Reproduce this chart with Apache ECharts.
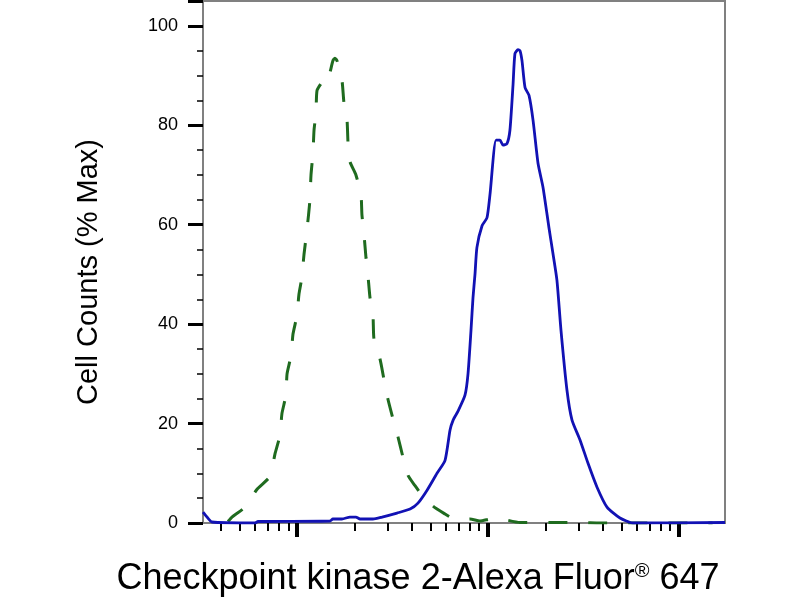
<!DOCTYPE html>
<html>
<head>
<meta charset="utf-8">
<script src="https://cdn.jsdelivr.net/npm/echarts@6/dist/echarts.min.js"></script>
<style>
html,body{margin:0;padding:0;background:#fff;}
#chart{width:800px;height:600px;}
</style>
</head>
<body>
<div id="chart"></div>
<script>
// Fluorescence intensity (log scale) vs cell counts (% max)
const xMin = 3.22;
const xMax = 1742;
const xMajorTicks = [10, 100, 1000];
const xMinorTicks = [4, 5, 6, 7, 8, 9, 20, 30, 40, 50, 60, 70, 80, 90, 200, 300, 400, 500, 600, 700, 800, 900];
const yMajorTicks = [0, 20, 40, 60, 80, 100];
const yMax = 105;

const xAxisTitle = 'Checkpoint kinase 2-Alexa Fluor';
const xAxisTitleMark = '®';
const xAxisTitleEnd = ' 647';
const yAxisTitle = 'Cell Counts (% Max)';

// isotype / unstained control (green dashed)
const controlX = [4.35, 4.57, 5.35, 6.18, 7.23, 7.67, 8.15, 8.34, 8.75, 8.87, 9.31, 9.53, 10.0, 10.24, 10.62, 10.88, 11.28, 11.69, 11.84, 12.13, 12.28, 12.57, 12.73, 13.4, 14.03, 14.52, 15.42, 15.8, 16.19, 17.2, 17.62, 18.28, 18.5, 18.94, 20.35, 21.63, 21.88, 22.44, 22.97, 23.53, 24.1, 25.0, 25.3, 27.2, 28.5, 29.9, 31.8, 33.8, 35.9, 38.1, 41.5, 45.1, 51.5, 59.6, 64.9, 71.3, 80.5, 90.8, 102.4, 115.6, 125.7, 147, 211, 303, 386, 1500];
const controlY = [0.3, 1.2, 3.2, 6.8, 9.4, 13.9, 17.7, 22, 25.7, 30, 33.7, 38, 41.8, 46, 49.5, 54, 59, 65, 70, 74.5, 79, 82.5, 87, 88.5, 90, 89.5, 93, 93.5, 93, 89, 84.5, 81, 76.5, 72.7, 70, 66, 62, 58, 53.4, 49.8, 45.4, 41.6, 37, 33, 29, 25, 21, 17.3, 13.2, 9.6, 7.5, 5.6, 3.4, 1.8, 1, 0.6, 0.8, 0.4, 0.8, 1, 0.6, 0.1, 0.1, 0.1, 0, 0];

// Checkpoint kinase 2 stained sample (blue solid)
const sampleX = [3.22, 3.38, 3.59, 6.03, 6.25, 14.88, 15.42, 17.2, 18.94, 20.35, 21.38, 25.0, 27.9, 33.4, 39.1, 43.0, 48.0, 54.1, 59.6, 63.3, 65.7, 69.7, 75.8, 78.6, 81.5, 83.5, 85.5, 87.5, 93.1, 98.8, 102.4, 110.2, 115.6, 119.9, 125.7, 130.3, 135.2, 138.4, 143.6, 147.1, 150.7, 156.3, 164.0, 172.2, 182.9, 194.2, 208.6, 218.9, 229.7, 241.1, 259.2, 275.4, 303.3, 334.1, 372.4, 420.0, 491.1, 574.4, 1742];
const sampleY = [2.2, 1.2, 0.2, 0, 0.3, 0.4, 0.8, 0.8, 1.2, 1.2, 0.8, 0.8, 1.2, 2, 2.8, 4, 6.6, 10, 12.6, 18.7, 20.7, 22.5, 25.7, 30, 38.8, 45.4, 50, 55.4, 59.8, 61.4, 66, 77, 77, 76, 76.3, 79, 88, 94.4, 95.2, 95, 93, 87.6, 86, 81, 72.3, 67.5, 59.4, 54.2, 48.8, 38.8, 26.7, 20.7, 16.7, 12, 7.2, 3.2, 1, 0, 0.1];

const FONT = '"Liberation Sans", Arial, "DejaVu Sans", sans-serif';

const pair = (xs, ys) => xs.map((x, i) => [x, ys[i]]);

const chart = echarts.init(document.getElementById('chart'));
chart.setOption({
  backgroundColor: '#ffffff',
  animation: false,
  grid: {
    left: 203, right: 75, top: 1, bottom: 77,
    containLabel: false, outerBoundsMode: 'none',
    show: true, borderColor: '#808080', borderWidth: 2, backgroundColor: 'transparent'
  },
  xAxis: [
    {
      type: 'log', logBase: 10, min: xMin, max: xMax,
      axisLine: { show: true, onZero: false, lineStyle: { color: '#808080', width: 2 } },
      axisTick: { show: true, customValues: xMajorTicks, length: 14, lineStyle: { color: '#000', width: 4 } },
      axisLabel: { show: false },
      splitLine: { show: false },
      minorTick: { show: false },
      name: '{a|' + xAxisTitle + '}{r|' + xAxisTitleMark + '}{a|' + xAxisTitleEnd + '}',
      nameLocation: 'middle',
      nameGap: 38,
      nameTextStyle: {
        fontFamily: FONT, fontSize: 36, color: '#000',
        padding: [0, 92, 0, 0],
        rich: {
          a: { fontFamily: FONT, fontSize: 36, color: '#000' },
          r: { fontFamily: FONT, fontSize: 20, color: '#000', verticalAlign: 'top' }
        }
      }
    },
    {
      type: 'log', logBase: 10, min: xMin, max: xMax, position: 'bottom',
      axisLine: { show: false, onZero: false },
      axisTick: { show: true, customValues: xMinorTicks, length: 8, lineStyle: { color: '#000', width: 2 } },
      axisLabel: { show: false },
      splitLine: { show: false },
      minorTick: { show: false }
    }
  ],
  yAxis: [
    {
      type: 'value', min: 0, max: yMax, interval: 5,
      axisLine: { show: true, lineStyle: { color: '#808080', width: 2 } },
      axisTick: { show: true, length: 6, lineStyle: { color: '#000', width: 1.5 } },
      axisLabel: { show: false },
      splitLine: { show: false }
    },
    {
      type: 'value', min: 0, max: yMax, interval: 20, position: 'left',
      axisLine: { show: false },
      axisTick: { show: true, length: 15, lineStyle: { color: '#000', width: 3 } },
      axisLabel: {
        show: true, margin: 25, fontFamily: FONT, fontSize: 18, color: '#000',
        formatter: v => (yMajorTicks.indexOf(v) >= 0 ? String(v) : '')
      },
      splitLine: { show: false },
      name: yAxisTitle,
      nameLocation: 'middle',
      nameGap: 100,
      nameTextStyle: { fontFamily: FONT, fontSize: 29, color: '#000', padding: [0, 20, 0, 0] }
    }
  ],
  series: [
    {
      type: 'line', xAxisIndex: 0, yAxisIndex: 0,
      data: pair(controlX, controlY),
      showSymbol: false, symbol: 'none', smooth: 0.2,
      lineStyle: { color: '#1f6b1f', width: 3, type: [19, 21], cap: 'butt' },
      z: 2
    },
    {
      type: 'line', xAxisIndex: 0, yAxisIndex: 0,
      data: pair(sampleX, sampleY),
      showSymbol: false, symbol: 'none', smooth: 0.2,
      lineStyle: { color: '#1212b4', width: 2.8 },
      z: 3
    }
  ]
});
</script>
</body>
</html>
